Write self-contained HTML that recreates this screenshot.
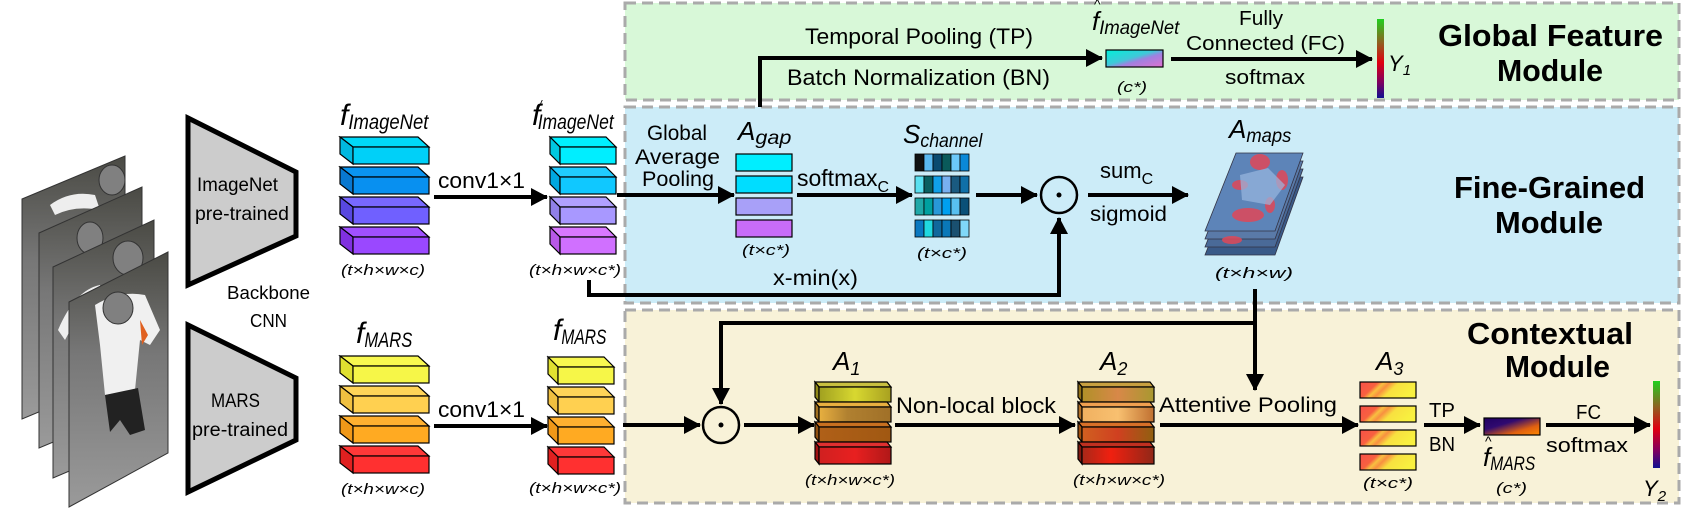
<!DOCTYPE html>
<html><head><meta charset="utf-8"><style>
html,body{margin:0;padding:0;background:#fff;}
svg{display:block;}
text{font-family:"Liberation Sans",sans-serif;fill:#000;}
.it{font-style:italic;}
.b{font-weight:bold;}
</style></head><body>
<svg width="1686" height="508" viewBox="0 0 1686 508" xmlns="http://www.w3.org/2000/svg">
<defs>
<marker id="ah" markerUnits="userSpaceOnUse" markerWidth="18" markerHeight="18" refX="16" refY="9" orient="auto"><path d="M0,0 L17,9 L0,18 z" fill="#000"/></marker>
<linearGradient id="gIm" x1="0" y1="0" x2="1" y2="1"><stop offset="0" stop-color="#00f0d8"/><stop offset="0.45" stop-color="#40c8d8"/><stop offset="0.6" stop-color="#a080e0"/><stop offset="1" stop-color="#e070d0"/></linearGradient>
<linearGradient id="gMa" x1="0" y1="0" x2="1" y2="1"><stop offset="0" stop-color="#200060"/><stop offset="0.35" stop-color="#300a70"/><stop offset="0.7" stop-color="#e06010"/><stop offset="1" stop-color="#ff8800"/></linearGradient>
<linearGradient id="gY" x1="0" y1="0" x2="0" y2="1"><stop offset="0" stop-color="#20d020"/><stop offset="0.3" stop-color="#906020"/><stop offset="0.55" stop-color="#e00010"/><stop offset="0.8" stop-color="#800060"/><stop offset="1" stop-color="#101090"/></linearGradient>
<linearGradient id="gA3" x1="0" y1="0" x2="1" y2="0.3"><stop offset="0" stop-color="#f85048"/><stop offset="0.3" stop-color="#f86040"/><stop offset="0.4" stop-color="#f8c040"/><stop offset="0.5" stop-color="#f89040"/><stop offset="0.65" stop-color="#f8e040"/><stop offset="1" stop-color="#f8f040"/></linearGradient>
<linearGradient id="gP" x1="0" y1="0" x2="0" y2="1"><stop offset="0" stop-color="#4a4a44"/><stop offset="0.4" stop-color="#777"/><stop offset="1" stop-color="#9a9a9a"/></linearGradient>
<linearGradient id="gA1a" x1="0" y1="0" x2="1" y2="0"><stop offset="0" stop-color="#a0a020"/><stop offset="0.5" stop-color="#d8d830"/><stop offset="1" stop-color="#a8a020"/></linearGradient>
<linearGradient id="gA1b" x1="0" y1="0" x2="1" y2="0"><stop offset="0" stop-color="#e8b040"/><stop offset="0.4" stop-color="#b08030"/><stop offset="1" stop-color="#a07028"/></linearGradient>
<linearGradient id="gA1c" x1="0" y1="0" x2="1" y2="0"><stop offset="0" stop-color="#b06018"/><stop offset="1" stop-color="#a05812"/></linearGradient>
<linearGradient id="gA1d" x1="0" y1="0" x2="1" y2="0"><stop offset="0" stop-color="#d02020"/><stop offset="0.5" stop-color="#e82020"/><stop offset="1" stop-color="#b01818"/></linearGradient>
<linearGradient id="gA2a" x1="0" y1="0" x2="1" y2="0"><stop offset="0" stop-color="#b09028"/><stop offset="0.5" stop-color="#d88848"/><stop offset="1" stop-color="#a89830"/></linearGradient>
<linearGradient id="gA2b" x1="0" y1="0" x2="1" y2="0"><stop offset="0" stop-color="#f0b060"/><stop offset="0.5" stop-color="#f8c070"/><stop offset="1" stop-color="#c07030"/></linearGradient>
<linearGradient id="gA2c" x1="0" y1="0" x2="1" y2="0"><stop offset="0" stop-color="#d06020"/><stop offset="0.5" stop-color="#d04020"/><stop offset="1" stop-color="#906010"/></linearGradient>
<linearGradient id="gA2d" x1="0" y1="0" x2="1" y2="0"><stop offset="0" stop-color="#a82818"/><stop offset="0.4" stop-color="#f02010"/><stop offset="1" stop-color="#902818"/></linearGradient>
</defs>

<rect x="625" y="3" width="1054" height="97" fill="#d8f8d8" stroke="#aaa" stroke-width="3" stroke-dasharray="11,6"/>
<rect x="625" y="107" width="1054" height="196" fill="#ccecf8" stroke="#aaa" stroke-width="3" stroke-dasharray="11,6"/>
<rect x="625" y="310" width="1054" height="193" fill="#f8f2d8" stroke="#aaa" stroke-width="3" stroke-dasharray="11,6"/>

<g stroke="#333" stroke-width="1">
<polygon points="22,199 125,156 125,376 22,419" fill="url(#gP)"/>
<ellipse cx="112" cy="180" rx="13" ry="15" fill="#808080"/>
<path d="M50,205 Q70,190 95,195 L100,210 Q75,205 55,215 z" fill="#eee" stroke="none"/>
<polygon points="39,233 142,187 142,405 39,448" fill="url(#gP)"/>
<ellipse cx="90" cy="238" rx="13" ry="16" fill="#808080"/>
<polygon points="53,267 154,220 154,435 53,478" fill="url(#gP)"/>
<ellipse cx="128" cy="258" rx="15" ry="17" fill="#808080"/>
<path d="M58,330 Q75,290 100,285 L105,300 Q80,310 65,340 z" fill="#eee" stroke="none"/>
<polygon points="69,302 168,252 168,453 69,507" fill="url(#gP)"/>
<path d="M95,305 Q120,290 145,295 L160,330 L150,345 L140,340 L135,390 L105,395 L100,345 z" fill="#f0f0f0" stroke="none"/>
<path d="M105,395 L138,388 L145,430 L130,435 L120,420 L110,432 z" fill="#222" stroke="none"/>
<path d="M140,320 L148,335 L142,345 z" fill="#e06020" stroke="none"/>
<ellipse cx="118" cy="308" rx="15" ry="16" fill="#808080"/>
</g>

<polygon points="188,118 296,172 296,236 188,285" fill="#ccc" stroke="#000" stroke-width="5"/>
<polygon points="188,325 296,378 296,440 188,492" fill="#ccc" stroke="#000" stroke-width="5"/>
<text x="197" y="191" font-size="19" textLength="81" lengthAdjust="spacingAndGlyphs">ImageNet</text>
<text x="195" y="220" font-size="19" textLength="94" lengthAdjust="spacingAndGlyphs">pre-trained</text>
<text x="211" y="407" font-size="19" textLength="49" lengthAdjust="spacingAndGlyphs">MARS</text>
<text x="192" y="436" font-size="19" textLength="96" lengthAdjust="spacingAndGlyphs">pre-trained</text>
<text x="227" y="299" font-size="18" textLength="83" lengthAdjust="spacingAndGlyphs">Backbone</text>
<text x="250" y="327" font-size="18" textLength="37" lengthAdjust="spacingAndGlyphs">CNN</text>

<g stroke="#000" stroke-width="1.2">
<g transform="translate(340,137)"><polygon points="0,0 78,0 89,10 13,10" fill="#00d8f8"/><polygon points="0,0 13,10 13,27 0,17" fill="#00b8e0"/><rect x="13" y="10" width="76" height="17" fill="#00d0f8"/></g>
<g transform="translate(340,167)"><polygon points="0,0 78,0 89,10 13,10" fill="#0a94f0"/><polygon points="0,0 13,10 13,27 0,17" fill="#0878d0"/><rect x="13" y="10" width="76" height="17" fill="#0890f0"/></g>
<g transform="translate(340,197)"><polygon points="0,0 78,0 89,10 13,10" fill="#7868ff"/><polygon points="0,0 13,10 13,27 0,17" fill="#5848e0"/><rect x="13" y="10" width="76" height="17" fill="#7060ff"/></g>
<g transform="translate(340,227)"><polygon points="0,0 78,0 89,10 13,10" fill="#a050ff"/><polygon points="0,0 13,10 13,27 0,17" fill="#8030e0"/><rect x="13" y="10" width="76" height="17" fill="#9a48ff"/></g>
<g transform="translate(550,137)"><polygon points="0,0 56,0 66,10 10,10" fill="#00f0ff"/><polygon points="0,0 10,10 10,27 0,17" fill="#00c8e0"/><rect x="10" y="10" width="56" height="17" fill="#00eeff"/></g>
<g transform="translate(550,167)"><polygon points="0,0 56,0 66,10 10,10" fill="#20ccff"/><polygon points="0,0 10,10 10,27 0,17" fill="#00a8e0"/><rect x="10" y="10" width="56" height="17" fill="#10c8ff"/></g>
<g transform="translate(550,197)"><polygon points="0,0 56,0 66,10 10,10" fill="#b0a0ff"/><polygon points="0,0 10,10 10,27 0,17" fill="#9080e8"/><rect x="10" y="10" width="56" height="17" fill="#a898ff"/></g>
<g transform="translate(550,227)"><polygon points="0,0 56,0 66,10 10,10" fill="#d878ff"/><polygon points="0,0 10,10 10,27 0,17" fill="#b858e8"/><rect x="10" y="10" width="56" height="17" fill="#d070ff"/></g>
<g transform="translate(340,356)"><polygon points="0,0 78,0 89,10 13,10" fill="#f8f850"/><polygon points="0,0 13,10 13,27 0,17" fill="#e0e030"/><rect x="13" y="10" width="76" height="17" fill="#f6f648"/></g>
<g transform="translate(340,386)"><polygon points="0,0 78,0 89,10 13,10" fill="#ffd458"/><polygon points="0,0 13,10 13,27 0,17" fill="#f0c040"/><rect x="13" y="10" width="76" height="17" fill="#ffd050"/></g>
<g transform="translate(340,416)"><polygon points="0,0 78,0 89,10 13,10" fill="#ffb030"/><polygon points="0,0 13,10 13,27 0,17" fill="#f09818"/><rect x="13" y="10" width="76" height="17" fill="#ffaa22"/></g>
<g transform="translate(340,446)"><polygon points="0,0 78,0 89,10 13,10" fill="#ff3838"/><polygon points="0,0 13,10 13,27 0,17" fill="#e02020"/><rect x="13" y="10" width="76" height="17" fill="#ff3030"/></g>
<g transform="translate(548,357)"><polygon points="0,0 56,0 66,10 10,10" fill="#f8f850"/><polygon points="0,0 10,10 10,27 0,17" fill="#e0e030"/><rect x="10" y="10" width="56" height="17" fill="#f6f648"/></g>
<g transform="translate(548,387)"><polygon points="0,0 56,0 66,10 10,10" fill="#ffd458"/><polygon points="0,0 10,10 10,27 0,17" fill="#f0c040"/><rect x="10" y="10" width="56" height="17" fill="#ffd050"/></g>
<g transform="translate(548,417)"><polygon points="0,0 56,0 66,10 10,10" fill="#ffb030"/><polygon points="0,0 10,10 10,27 0,17" fill="#f09818"/><rect x="10" y="10" width="56" height="17" fill="#ffaa22"/></g>
<g transform="translate(548,447)"><polygon points="0,0 56,0 66,10 10,10" fill="#ff3838"/><polygon points="0,0 10,10 10,27 0,17" fill="#e02020"/><rect x="10" y="10" width="56" height="17" fill="#ff3030"/></g>
</g>

<text x="340" y="125" font-size="30" class="it">f<tspan font-size="21" dy="4" textLength="80" lengthAdjust="spacingAndGlyphs">ImageNet</tspan></text>
<text x="532" y="125" font-size="30" class="it">f<tspan font-size="12" dx="-2" dy="-16">/</tspan><tspan font-size="21" dx="-4" dy="20" textLength="76" lengthAdjust="spacingAndGlyphs">ImageNet</tspan></text>
<text x="356" y="343" font-size="30" class="it">f<tspan font-size="21" dy="4" textLength="48" lengthAdjust="spacingAndGlyphs">MARS</tspan></text>
<text x="553" y="340" font-size="30" class="it">f<tspan font-size="21" dy="4" textLength="45" lengthAdjust="spacingAndGlyphs">MARS</tspan></text>
<g class="it" font-size="15">
<text x="341" y="275" textLength="84" lengthAdjust="spacingAndGlyphs">(t×h×w×c)</text>
<text x="529" y="275" textLength="92" lengthAdjust="spacingAndGlyphs">(t×h×w×c*)</text>
<text x="341" y="494" textLength="84" lengthAdjust="spacingAndGlyphs">(t×h×w×c)</text>
<text x="529" y="493" textLength="92" lengthAdjust="spacingAndGlyphs">(t×h×w×c*)</text>
<text x="742" y="255" textLength="48" lengthAdjust="spacingAndGlyphs">(t×c*)</text>
<text x="917" y="258" textLength="50" lengthAdjust="spacingAndGlyphs">(t×c*)</text>
<text x="1215" y="278" textLength="78" lengthAdjust="spacingAndGlyphs">(t×h×w)</text>
<text x="1117" y="92" textLength="30" lengthAdjust="spacingAndGlyphs">(c*)</text>
<text x="805" y="485" textLength="90" lengthAdjust="spacingAndGlyphs">(t×h×w×c*)</text>
<text x="1073" y="485" textLength="92" lengthAdjust="spacingAndGlyphs">(t×h×w×c*)</text>
<text x="1363" y="488" textLength="50" lengthAdjust="spacingAndGlyphs">(t×c*)</text>
<text x="1496" y="493" textLength="31" lengthAdjust="spacingAndGlyphs">(c*)</text>
</g>

<text x="438" y="188" font-size="22" textLength="87" lengthAdjust="spacingAndGlyphs">conv1×1</text>
<line x1="434" y1="197" x2="547" y2="197" stroke="#000" stroke-width="4" marker-end="url(#ah)"/>
<text x="438" y="417" font-size="22" textLength="87" lengthAdjust="spacingAndGlyphs">conv1×1</text>
<line x1="434" y1="426" x2="547" y2="426" stroke="#000" stroke-width="4" marker-end="url(#ah)"/>

<text x="647" y="140" font-size="21" textLength="60" lengthAdjust="spacingAndGlyphs">Global</text>
<text x="635" y="164" font-size="21" textLength="85" lengthAdjust="spacingAndGlyphs">Average</text>
<text x="642" y="186" font-size="21" textLength="72" lengthAdjust="spacingAndGlyphs">Pooling</text>
<line x1="617" y1="195" x2="734" y2="195" stroke="#000" stroke-width="4" marker-end="url(#ah)"/>
<text x="738" y="140" font-size="26" class="it">A<tspan font-size="19" dy="4" textLength="36" lengthAdjust="spacingAndGlyphs">gap</tspan></text>
<g stroke="#000" stroke-width="1.2">
<rect x="736" y="154" width="56" height="17" fill="#00eeff"/>
<rect x="736" y="176" width="56" height="17" fill="#00ddff"/>
<rect x="736" y="198" width="56" height="17" fill="#a8a0f8"/>
<rect x="736" y="220" width="56" height="17" fill="#c86cf8"/>
</g>
<text x="797" y="186" font-size="23">softmax<tspan font-size="16" dy="6">C</tspan></text>
<line x1="797" y1="195" x2="912" y2="195" stroke="#000" stroke-width="4" marker-end="url(#ah)"/>
<text x="903" y="143" font-size="26" class="it">S<tspan font-size="19" dy="4" textLength="62" lengthAdjust="spacingAndGlyphs">channel</tspan></text>
<g stroke="#000" stroke-width="0.8">
<rect x="915" y="154" width="9" height="17" fill="#111"/><rect x="924" y="154" width="9" height="17" fill="#5ab8f0"/><rect x="933" y="154" width="9" height="17" fill="#0a4a70"/><rect x="942" y="154" width="9" height="17" fill="#0a5a5a"/><rect x="951" y="154" width="9" height="17" fill="#6cc8f8"/><rect x="960" y="154" width="9" height="17" fill="#0a88d8"/>
<rect x="915" y="176" width="9" height="17" fill="#5ae0f0"/><rect x="924" y="176" width="9" height="17" fill="#0a6060"/><rect x="933" y="176" width="9" height="17" fill="#10a0e8"/><rect x="942" y="176" width="9" height="17" fill="#78b0f0"/><rect x="951" y="176" width="9" height="17" fill="#1a5a80"/><rect x="960" y="176" width="9" height="17" fill="#1070a8"/>
<rect x="915" y="198" width="9" height="17" fill="#20a8a8"/><rect x="924" y="198" width="9" height="17" fill="#00a0a0"/><rect x="933" y="198" width="9" height="17" fill="#2898d8"/><rect x="942" y="198" width="9" height="17" fill="#00a0f0"/><rect x="951" y="198" width="9" height="17" fill="#58c0f0"/><rect x="960" y="198" width="9" height="17" fill="#0a5078"/>
<rect x="915" y="220" width="9" height="17" fill="#0a78c0"/><rect x="924" y="220" width="9" height="17" fill="#20d8e0"/><rect x="933" y="220" width="9" height="17" fill="#10689c"/><rect x="942" y="220" width="9" height="17" fill="#0a78b8"/><rect x="951" y="220" width="9" height="17" fill="#1a5070"/><rect x="960" y="220" width="9" height="17" fill="#80d8f8"/>
</g>
<line x1="976" y1="195" x2="1037" y2="195" stroke="#000" stroke-width="4" marker-end="url(#ah)"/>
<circle cx="1059" cy="195" r="18" fill="none" stroke="#000" stroke-width="2.5"/>
<circle cx="1059" cy="195" r="2.5" fill="#000"/>
<line x1="1088" y1="195" x2="1188" y2="195" stroke="#000" stroke-width="4" marker-end="url(#ah)"/>
<text x="1100" y="178" font-size="22">sum<tspan font-size="16" dy="6">C</tspan></text>
<text x="1090" y="221" font-size="21" textLength="77" lengthAdjust="spacingAndGlyphs">sigmoid</text>
<polyline points="589,280 589,295 1059,295 1059,218" fill="none" stroke="#000" stroke-width="4" marker-end="url(#ah)"/>
<text x="773" y="285" font-size="21" textLength="85" lengthAdjust="spacingAndGlyphs">x-min(x)</text>
<text x="1229" y="138" font-size="26" class="it">A<tspan font-size="19" dy="4" textLength="45" lengthAdjust="spacingAndGlyphs">maps</tspan></text>
<g stroke="#334" stroke-width="0.8">
<polygon points="1236,177 1303,177 1275,255 1205,255" fill="#3a5a88"/>
<polygon points="1236,169 1303,169 1275,247 1205,247" fill="#4a6a98"/>
<polygon points="1236,161 1303,161 1275,239 1205,239" fill="#5a7aa8"/>
<polygon points="1236,153 1303,153 1275,231 1205,231" fill="#5d84b8"/>
</g>
<g fill="#e04858" opacity="0.85">
<ellipse cx="1260" cy="162" rx="10" ry="8"/><ellipse cx="1240" cy="185" rx="8" ry="5"/><ellipse cx="1282" cy="180" rx="6" ry="10"/><ellipse cx="1248" cy="215" rx="16" ry="7"/><ellipse cx="1270" cy="205" rx="5" ry="8"/><ellipse cx="1232" cy="240" rx="10" ry="4"/>
</g>
<path d="M1240,175 L1268,168 L1285,185 L1270,205 L1242,200 z" fill="#9ab8e0" opacity="0.7"/>

<polyline points="760,107 760,58 1102,58" fill="none" stroke="#000" stroke-width="4" marker-end="url(#ah)"/>
<text x="805" y="44" font-size="22" textLength="228" lengthAdjust="spacingAndGlyphs">Temporal Pooling (TP)</text>
<text x="787" y="85" font-size="22" textLength="263" lengthAdjust="spacingAndGlyphs">Batch Normalization (BN)</text>
<rect x="1106" y="50" width="57" height="17" fill="url(#gIm)" stroke="#000" stroke-width="1.2"/>
<text x="1092" y="30" font-size="26" class="it">f<tspan font-size="19" dy="4" textLength="80" lengthAdjust="spacingAndGlyphs">ImageNet</tspan></text>
<text x="1094" y="9" font-size="14">^</text>
<line x1="1171" y1="59" x2="1372" y2="59" stroke="#000" stroke-width="4" marker-end="url(#ah)"/>
<text x="1239" y="25" font-size="20" textLength="44" lengthAdjust="spacingAndGlyphs">Fully</text>
<text x="1186" y="50" font-size="20" textLength="159" lengthAdjust="spacingAndGlyphs">Connected (FC)</text>
<text x="1225" y="84" font-size="20" textLength="80" lengthAdjust="spacingAndGlyphs">softmax</text>
<rect x="1377" y="19" width="7" height="79" fill="url(#gY)"/>
<text x="1388" y="71" font-size="22" class="it">Y<tspan font-size="15" dy="4">1</tspan></text>
<text x="1438" y="46" font-size="31" class="b" textLength="225" lengthAdjust="spacingAndGlyphs">Global Feature</text>
<text x="1497" y="81" font-size="31" class="b" textLength="106" lengthAdjust="spacingAndGlyphs">Module</text>
<text x="1454" y="198" font-size="31" class="b" textLength="191" lengthAdjust="spacingAndGlyphs">Fine-Grained</text>
<text x="1495" y="233" font-size="31" class="b" textLength="108" lengthAdjust="spacingAndGlyphs">Module</text>
<text x="1467" y="344" font-size="31" class="b" textLength="166" lengthAdjust="spacingAndGlyphs">Contextual</text>
<text x="1505" y="377" font-size="31" class="b" textLength="105" lengthAdjust="spacingAndGlyphs">Module</text>

<line x1="623" y1="425" x2="700" y2="425" stroke="#000" stroke-width="4" marker-end="url(#ah)"/>
<circle cx="721" cy="425" r="18" fill="none" stroke="#000" stroke-width="2.5"/>
<circle cx="721" cy="425" r="2.5" fill="#000"/>
<polyline points="1255,289 1255,323 721,323 721,404" fill="none" stroke="#000" stroke-width="4" marker-end="url(#ah)"/>
<line x1="1255" y1="320" x2="1255" y2="390" stroke="#000" stroke-width="4" marker-end="url(#ah)"/>
<line x1="744" y1="425" x2="814" y2="425" stroke="#000" stroke-width="4" marker-end="url(#ah)"/>
<text x="833" y="370" font-size="26" class="it">A<tspan font-size="18" dy="5">1</tspan></text>
<g stroke="#000" stroke-width="1.2">
<g transform="translate(815,382)"><polygon points="0,0 72,0 76,5 4,5" fill="#c8c040"/><polygon points="0,0 4,5 4,20 0,15" fill="#908818"/><rect x="4" y="5" width="72" height="15" fill="url(#gA1a)"/></g>
<g transform="translate(815,402)"><polygon points="0,0 72,0 76,5 4,5" fill="#e8b040"/><polygon points="0,0 4,5 4,20 0,15" fill="#a07020"/><rect x="4" y="5" width="72" height="15" fill="url(#gA1b)"/></g>
<g transform="translate(815,422)"><polygon points="0,0 72,0 76,5 4,5" fill="#c87020"/><polygon points="0,0 4,5 4,20 0,15" fill="#905010"/><rect x="4" y="5" width="72" height="15" fill="url(#gA1c)"/></g>
<g transform="translate(815,442)"><polygon points="0,0 72,0 76,5 4,5" fill="#e03030"/><polygon points="0,0 4,5 4,22 0,17" fill="#a01010"/><rect x="4" y="5" width="72" height="17" fill="url(#gA1d)"/></g>
<g transform="translate(1078,382)"><polygon points="0,0 72,0 76,5 4,5" fill="#c8a040"/><polygon points="0,0 4,5 4,20 0,15" fill="#907018"/><rect x="4" y="5" width="72" height="15" fill="url(#gA2a)"/></g>
<g transform="translate(1078,402)"><polygon points="0,0 72,0 76,5 4,5" fill="#f0a050"/><polygon points="0,0 4,5 4,20 0,15" fill="#b07028"/><rect x="4" y="5" width="72" height="15" fill="url(#gA2b)"/></g>
<g transform="translate(1078,422)"><polygon points="0,0 72,0 76,5 4,5" fill="#d87028"/><polygon points="0,0 4,5 4,20 0,15" fill="#a05010"/><rect x="4" y="5" width="72" height="15" fill="url(#gA2c)"/></g>
<g transform="translate(1078,442)"><polygon points="0,0 72,0 76,5 4,5" fill="#c03020"/><polygon points="0,0 4,5 4,22 0,17" fill="#801810"/><rect x="4" y="5" width="72" height="17" fill="url(#gA2d)"/></g>
</g>
<text x="896" y="413" font-size="22" textLength="160" lengthAdjust="spacingAndGlyphs">Non-local block</text>
<line x1="895" y1="425" x2="1075" y2="425" stroke="#000" stroke-width="4" marker-end="url(#ah)"/>
<text x="1100" y="370" font-size="26" class="it">A<tspan font-size="18" dy="5">2</tspan></text>
<text x="1159" y="412" font-size="21" textLength="178" lengthAdjust="spacingAndGlyphs">Attentive Pooling</text>
<line x1="1160" y1="425" x2="1358" y2="425" stroke="#000" stroke-width="4" marker-end="url(#ah)"/>
<text x="1376" y="370" font-size="26" class="it">A<tspan font-size="18" dy="5">3</tspan></text>
<g stroke="#000" stroke-width="1.2">
<rect x="1360" y="382" width="56" height="16" fill="url(#gA3)"/>
<rect x="1360" y="406" width="56" height="16" fill="url(#gA3)"/>
<rect x="1360" y="430" width="56" height="16" fill="url(#gA3)"/>
<rect x="1360" y="454" width="56" height="16" fill="url(#gA3)"/>
</g>
<text x="1429" y="417" font-size="20" textLength="26" lengthAdjust="spacingAndGlyphs">TP</text>
<text x="1429" y="451" font-size="20" textLength="26" lengthAdjust="spacingAndGlyphs">BN</text>
<line x1="1424" y1="425" x2="1480" y2="425" stroke="#000" stroke-width="4" marker-end="url(#ah)"/>
<rect x="1484" y="418" width="56" height="17" fill="url(#gMa)" stroke="#000" stroke-width="1.2"/>
<text x="1483" y="466" font-size="26" class="it">f<tspan font-size="19" dy="4" textLength="45" lengthAdjust="spacingAndGlyphs">MARS</tspan></text>
<text x="1485" y="446" font-size="14">^</text>
<line x1="1546" y1="425" x2="1650" y2="425" stroke="#000" stroke-width="4" marker-end="url(#ah)"/>
<text x="1576" y="419" font-size="20" textLength="25" lengthAdjust="spacingAndGlyphs">FC</text>
<text x="1546" y="452" font-size="20" textLength="82" lengthAdjust="spacingAndGlyphs">softmax</text>
<rect x="1653" y="381" width="7" height="87" fill="url(#gY)"/>
<text x="1643" y="496" font-size="22" class="it">Y<tspan font-size="15" dy="5">2</tspan></text>
</svg>
</body></html>
